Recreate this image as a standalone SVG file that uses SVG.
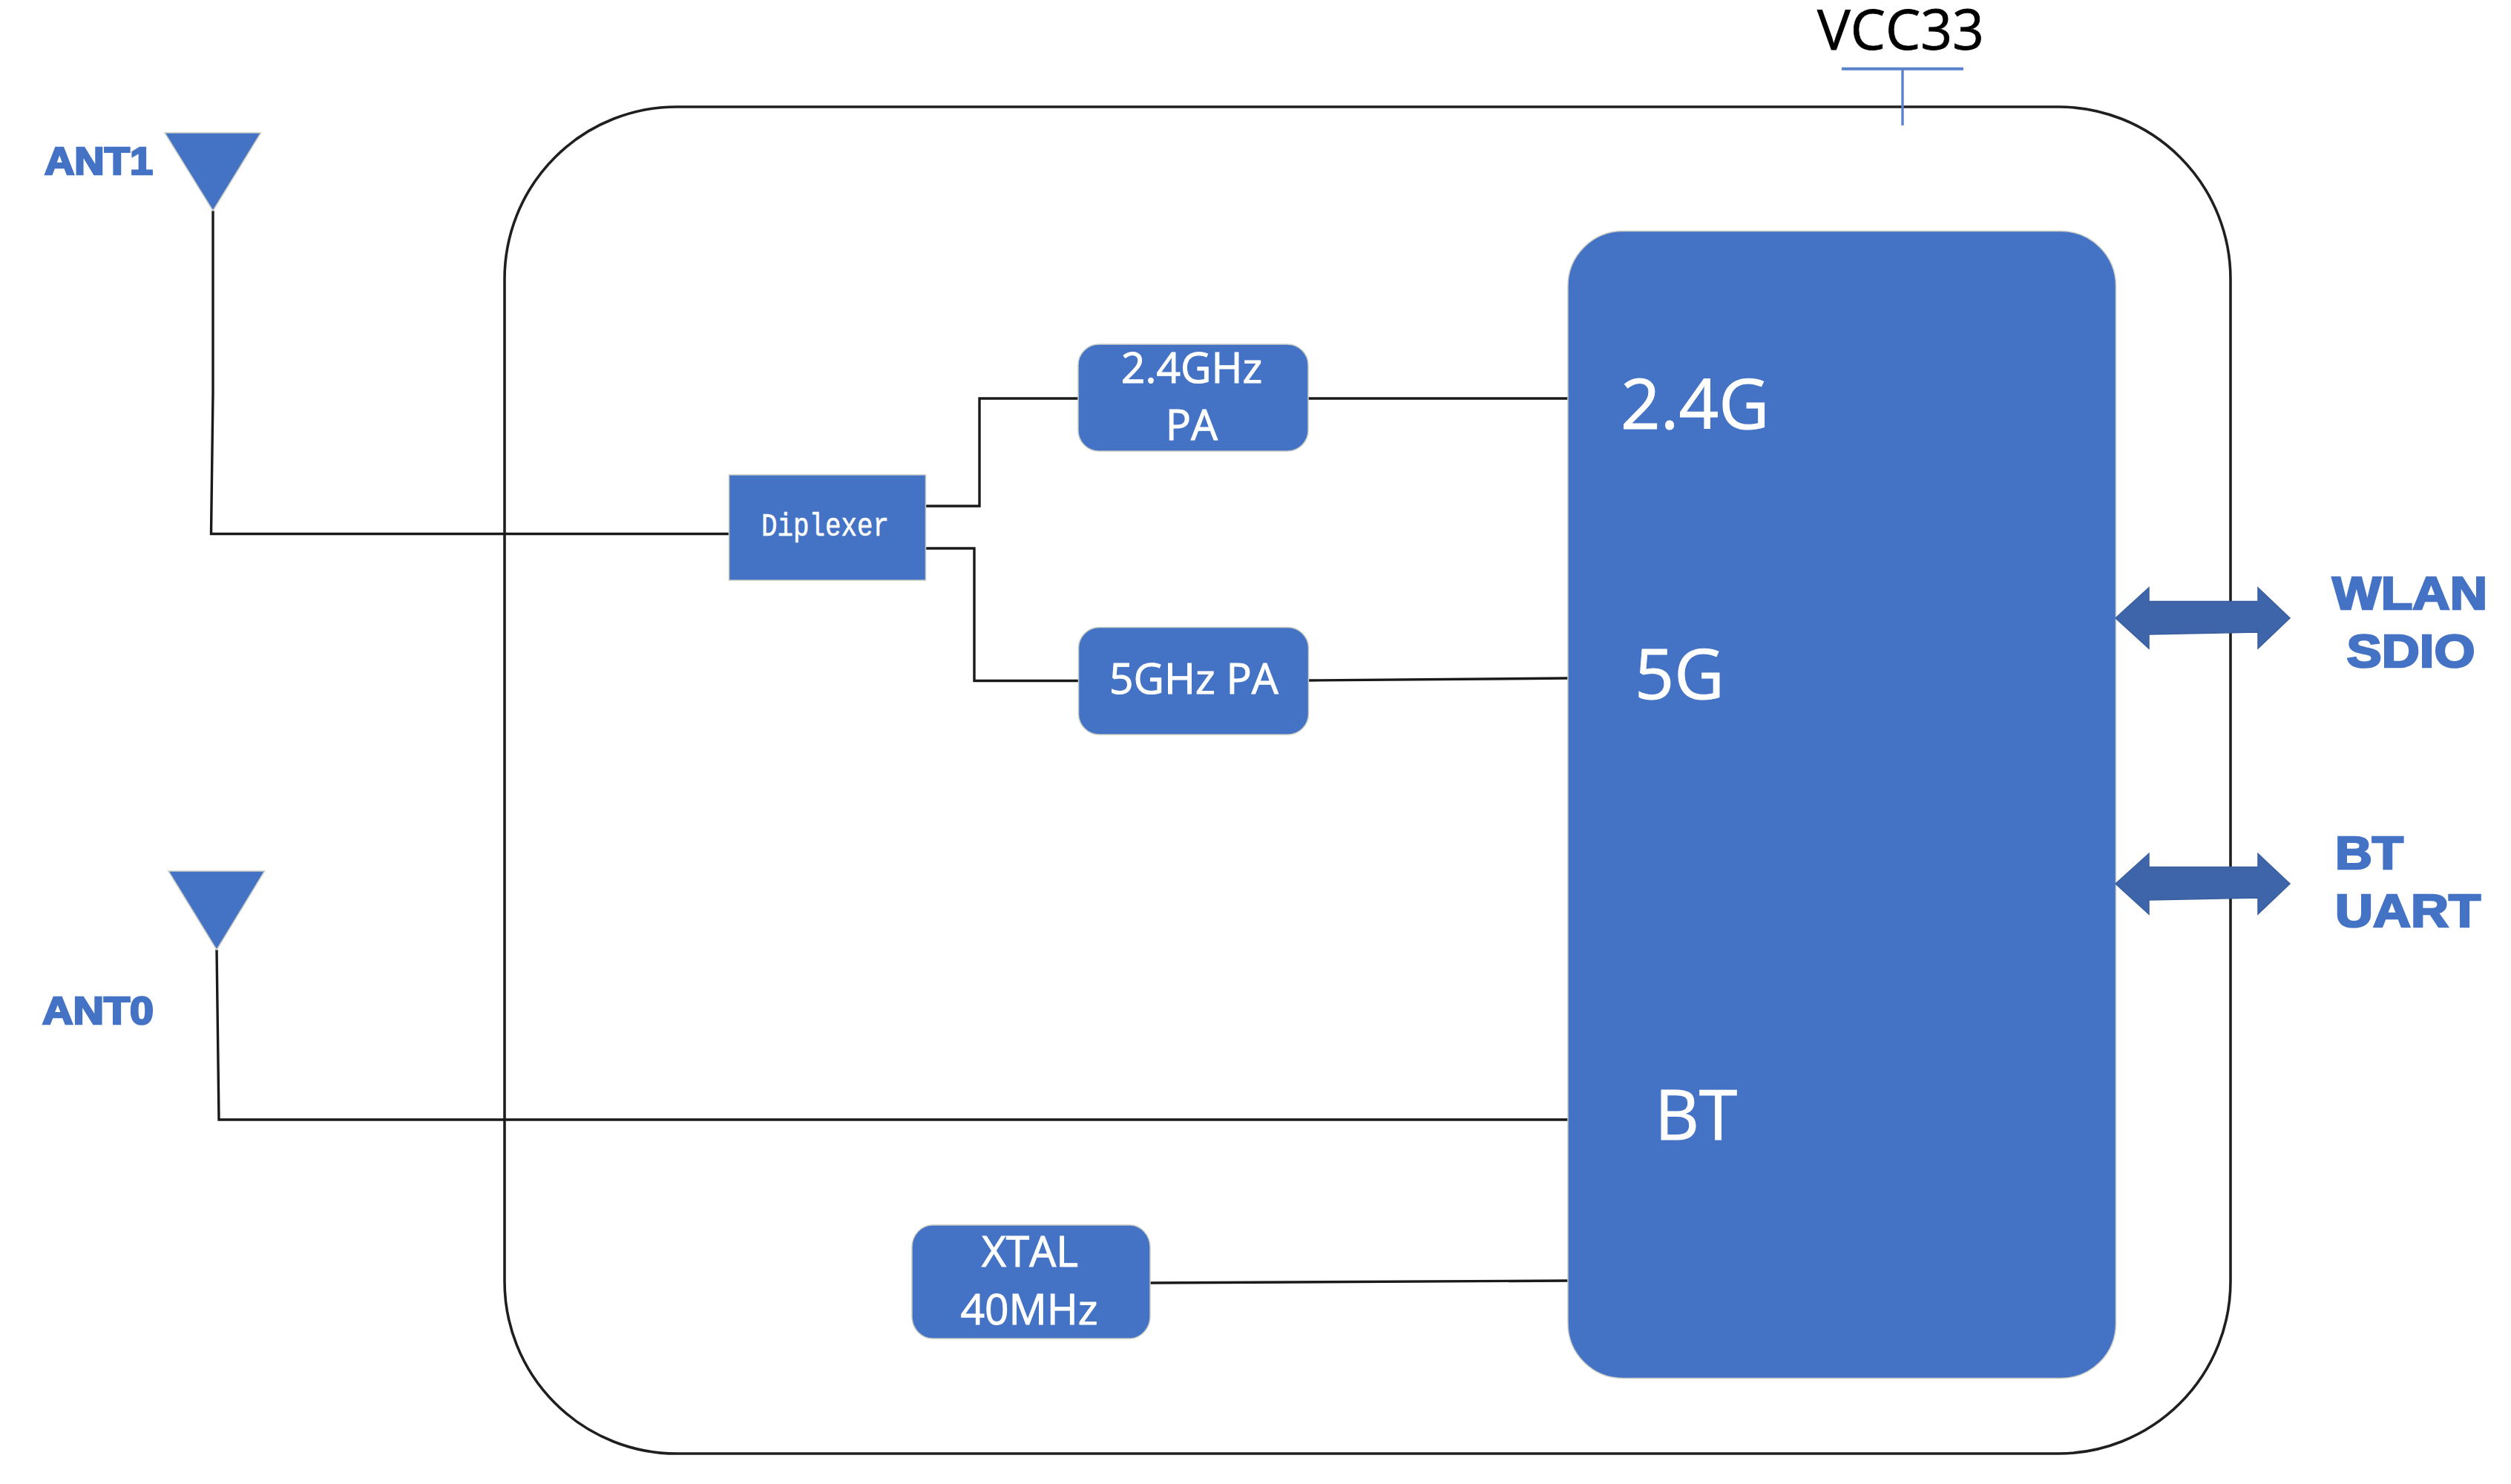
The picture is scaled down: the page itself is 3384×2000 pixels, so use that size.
<svg xmlns="http://www.w3.org/2000/svg" width="3384" height="2000" viewBox="0 0 3384 2000">
<style>
.blk{fill:#4472c4;stroke:#c9ccc4;stroke-width:1.5}
.wire{fill:none;stroke:#1a1a1a;stroke-width:3.4}
.arr{fill:#3e64a9;stroke:#3a5f9f;stroke-width:1.5}
.os{font-family:"Open Sans","Noto Sans",sans-serif;fill:#fff;stroke:#fff;stroke-width:1}
.lab{font-family:"Liberation Sans",Arial,sans-serif;font-weight:bold;fill:#4472c4;stroke:#4472c4;stroke-width:2.6}
</style>
<rect width="3384" height="2000" fill="#ffffff"/>
<g id="module"><rect x="680" y="144" width="2326" height="1815" rx="232" ry="232" fill="none" stroke="#1f1f1f" stroke-width="3.6"/></g>
<g id="connectors">
<path class="wire" d="M287 284V530L284.500 719.500H983"/>
<path class="wire" d="M292 1280L295 1509H2113"/>
<path class="wire" d="M1248 682H1320V537H1453"/>
<path class="wire" d="M1248 739H1313V917.500H1453.500"/>
<path class="wire" d="M1763 537H2113"/>
<path class="wire" d="M1763.500 917L2113 914"/>
<path class="wire" d="M1550 1729L2113 1726"/>
</g>
<g id="vcc33">
<path d="M2482 92.700H2646" fill="none" stroke="#5b82cc" stroke-width="4"/>
<path d="M2564 92.700V169" fill="none" stroke="#5b82cc" stroke-width="3.400"/>
<text x="2449" y="67" font-family="'Open Sans','Noto Sans',sans-serif" font-size="75" fill="#000" stroke="#000" stroke-width="0.8">VCC33</text>
</g>
<g id="ant1">
<polygon class="blk" points="222,179 351.500,179 287,284"/>
<text class="lab" x="60" y="234.500" font-size="52" textLength="146" lengthAdjust="spacingAndGlyphs">ANT1</text>
</g>
<g id="ant0">
<polygon class="blk" points="227,1174 356.500,1174 292,1280"/>
<text class="lab" x="57" y="1380" font-size="52" textLength="150" lengthAdjust="spacingAndGlyphs">ANT0</text>
</g>
<g id="diplexer">
<rect class="blk" x="982.500" y="640" width="265" height="142"/>
<text x="1026" y="722" font-family="'Liberation Mono',monospace" font-size="44" fill="#fff" stroke="#fff" stroke-width="0.6" textLength="172" lengthAdjust="spacingAndGlyphs">Diplexer</text>
</g>
<g id="pa24">
<rect class="blk" x="1453" y="464" width="310" height="144" rx="28" ry="28"/>
<text class="os" x="1606" y="516" font-size="57" text-anchor="middle">2.4GHz</text>
<text class="os" x="1606" y="593" font-size="57" text-anchor="middle">PA</text>
</g>
<g id="pa5">
<rect class="blk" x="1453.500" y="845.500" width="310" height="144.500" rx="28" ry="28"/>
<text class="os" x="1495" y="935" font-size="57">5GHz PA</text>
</g>
<g id="xtal">
<rect class="blk" x="1229" y="1651" width="321" height="153" rx="28" ry="30"/>
<text class="os" x="1388" y="1706.500" font-size="57" text-anchor="middle">XTAL</text>
<text class="os" x="1387" y="1785" font-size="57" text-anchor="middle">40MHz</text>
</g>
<g id="chip">
<rect class="blk" x="2113" y="311.500" width="738.500" height="1546" rx="74" ry="74"/>
<text class="os" x="2184" y="578" font-size="94">2.4G</text>
<text class="os" x="2203" y="942" font-size="93">5G</text>
<text class="os" x="2230" y="1536" font-size="93">BT</text>
</g>
<g id="wlan">
<polygon class="arr" points="2851,833 2896,792 2896,810.500 3043,810.500 3043,792 3086,833 3043,874 3043,852 2896,855 2896,874"/>
<text class="lab" x="3143" y="821" font-size="63" textLength="209" lengthAdjust="spacingAndGlyphs">WLAN</text>
<text class="lab" x="3162.500" y="899" font-size="63" textLength="173" lengthAdjust="spacingAndGlyphs">SDIO</text>
</g>
<g id="bt">
<polygon class="arr" points="2851,1191 2896,1150.500 2896,1168.500 3043,1168.500 3043,1150.500 3086,1191 3043,1232 3043,1210 2896,1213 2896,1232"/>
<text class="lab" x="3147" y="1170.500" font-size="63" textLength="92" lengthAdjust="spacingAndGlyphs">BT</text>
<text class="lab" x="3147" y="1249" font-size="63" textLength="196" lengthAdjust="spacingAndGlyphs">UART</text>
</g>
</svg>
